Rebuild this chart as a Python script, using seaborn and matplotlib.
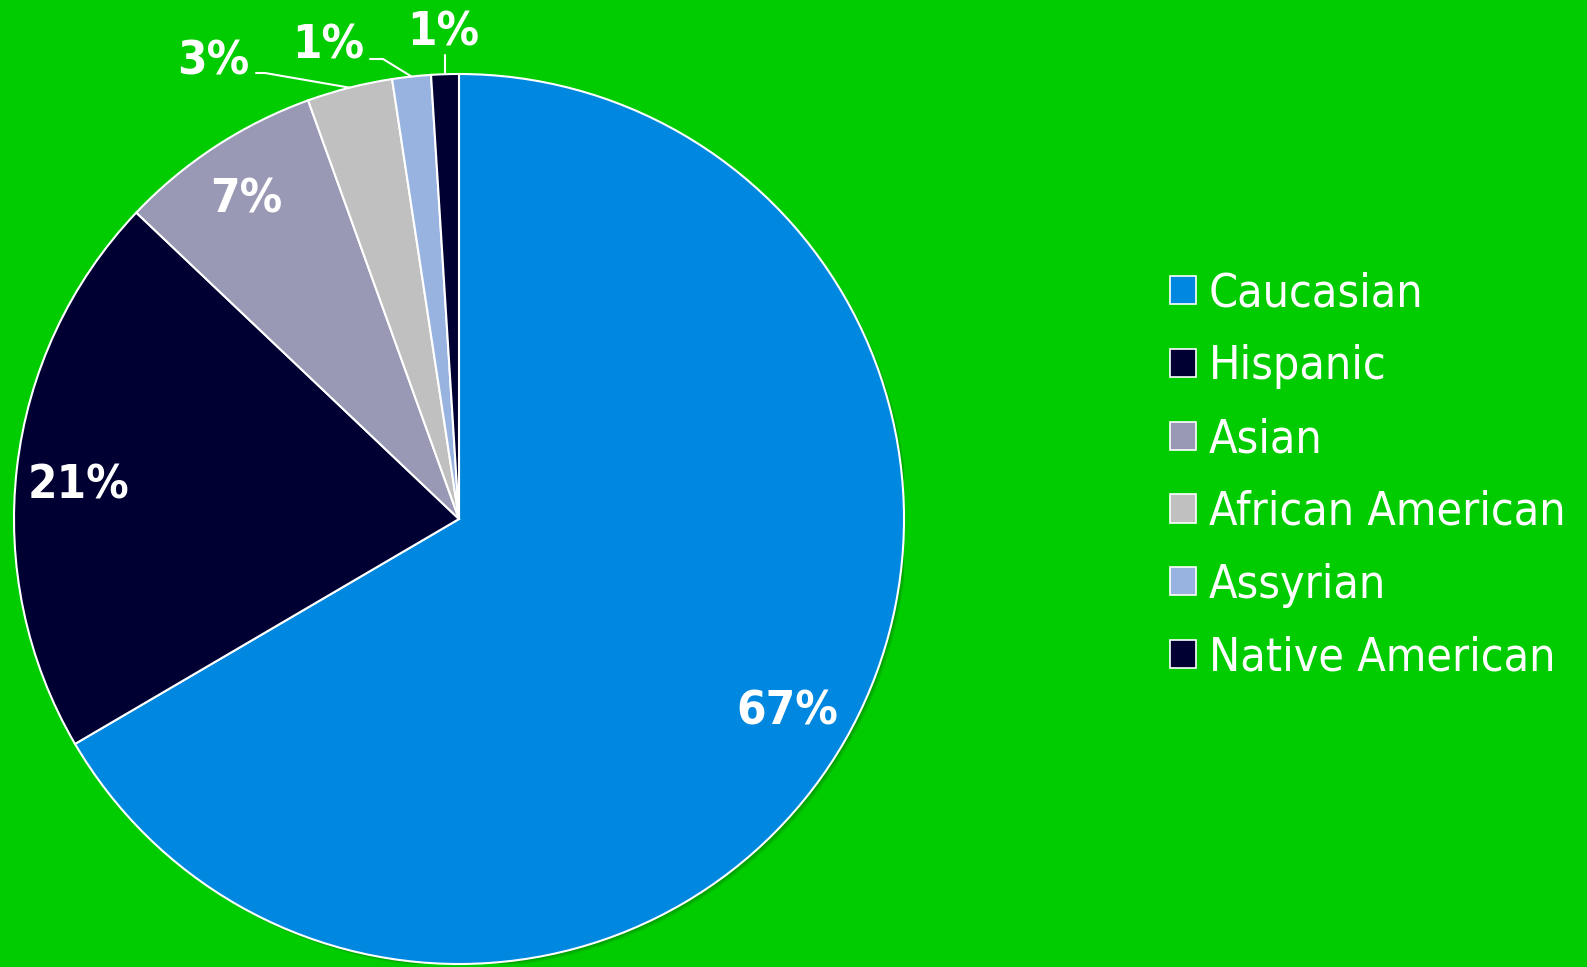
import numpy as np
import matplotlib
matplotlib.use("Agg")
import matplotlib.pyplot as plt
import matplotlib.patches as mpatches
import seaborn as sns

# --- data ---
groups = ["Caucasian", "Hispanic", "Asian", "African American", "Assyrian", "Native American"]
shares = [66.5, 20.5, 7.4, 3.1, 1.4, 1.0]
pct_labels = ["67%", "21%", "7%", "3%", "1%", "1%"]
colors = ["#0088E0", "#000033", "#9999B5", "#C0C0C0", "#99B3E0", "#000033"]

bg = "#00CC00"

sns.set_theme(style="white")
plt.rcParams['font.family'] = ['DejaVu Sans']

W, H = 1587, 967
fig = plt.figure(figsize=(W / 100, H / 100), dpi=100, facecolor=bg)

# pie centre and radius in pixels
cx, cy, R = 459, 519, 445
ax = fig.add_axes([(cx - R) / W, (H - cy - R) / H, 2 * R / W, 2 * R / H])
ax.set_facecolor(bg)

# soft shadow under the pie
for off, a in [(0.009, 0.15), (0.006, 0.2), (0.003, 0.3)]:
    ax.add_patch(mpatches.Circle((off, -off), 1.0, color="#006600", alpha=a, lw=0, zorder=0))

wedges, _ = ax.pie(shares, colors=colors, startangle=90, counterclock=False,
                   radius=1.0, wedgeprops=dict(edgecolor="white", linewidth=1.5, zorder=2))
ax.set_xlim(-1, 1)
ax.set_ylim(-1, 1)
ax.set_aspect("equal")
ax.axis("off")

txt = dict(color="white", fontsize=34, fontweight="bold", ha="center", va="center",
           fontstretch="condensed", zorder=5)

def px(x, y):
    return (x - cx) / R, (cy - y) / R

# inside labels for the big slices (small pixel nudges to match the original)
nudges = [(-4, 3), (0, 11), (-3, 1)]
for w, lab, (dx, dy) in zip(wedges[:3], pct_labels[:3], nudges):
    mid = np.deg2rad((w.theta1 + w.theta2) / 2)
    ax.text(0.86 * np.cos(mid) + dx / R, 0.86 * np.sin(mid) - dy / R, lab, **txt)

# outside labels with leader lines for the small slices
outside = [
    (px(213, 62), [px(256, 73), px(265, 73)]),
    (px(328, 46), [px(370, 59), px(383, 59)]),
    (px(443, 33), [px(445, 55)]),
]
for w, lab, (tpos, elbow) in zip(wedges[3:], pct_labels[3:], outside):
    mid = np.deg2rad((w.theta1 + w.theta2) / 2)
    edge = (np.cos(mid), np.sin(mid))
    if len(elbow) == 1:
        pts = [edge, (edge[0], elbow[0][1])]
    else:
        pts = [edge] + elbow[::-1]
    xs, ys = zip(*pts)
    ax.plot(xs, ys, color="white", lw=1.5, clip_on=False)
    ax.text(tpos[0], tpos[1], lab, clip_on=False, **txt)

handles = [mpatches.Patch(facecolor=c, edgecolor="white", linewidth=1.2) for c in colors]
fig.legend(handles, groups, loc="center left", bbox_to_anchor=(1170 / W, 1 - 476 / H),
           frameon=False, labelcolor="white", handlelength=0.56, handleheight=0.56,
           handletextpad=0.28, labelspacing=0.60, borderaxespad=0, borderpad=0,
           prop=dict(size=33.4, stretch="condensed"))

fig.savefig("out.png", dpi=100, facecolor=bg)
